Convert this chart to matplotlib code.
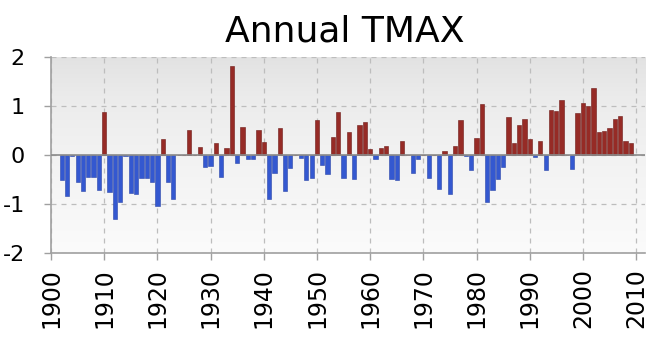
import numpy as np
import matplotlib
matplotlib.use("Agg")
import matplotlib.pyplot as plt
from matplotlib.colors import LinearSegmentedColormap

# Annual TMAX anomaly, one value per year
years = list(range(1902, 2010))
anomaly = [
    -0.52, -0.83, -0.02, -0.55, -0.73, -0.44, -0.46, -0.72, 0.88,           # 1902-1910
    -0.75, -1.31, -0.96, -0.02, -0.77, -0.80, -0.48, -0.48, -0.55, -1.04,   # 1911-1920
    0.32, -0.56, -0.89, 0.0, 0.0, 0.51, 0.0, 0.16, -0.25, -0.22,            # 1921-1930
    0.25, -0.45, 0.14, 1.81, -0.17, 0.56, -0.08, -0.08, 0.51, 0.27,         # 1931-1940
    -0.89, -0.36, 0.54, -0.73, -0.26, 0.0, -0.06, -0.51, -0.47, 0.72,       # 1941-1950
    -0.21, -0.38, 0.37, 0.87, -0.48, 0.46, -0.49, 0.61, 0.67, 0.12,         # 1951-1960
    -0.08, 0.15, 0.19, -0.50, -0.52, 0.28, 0.0, -0.36, -0.08, 0.0,          # 1961-1970
    -0.47, 0.0, -0.69, 0.09, -0.80, 0.18, 0.72, -0.03, -0.31, 0.35,         # 1971-1980
    1.04, -0.96, -0.72, -0.50, -0.25, 0.78, 0.25, 0.61, 0.73, 0.33,         # 1981-1990
    -0.04, 0.28, -0.31, 0.92, 0.89, 1.12, 0.0, -0.29, 0.85, 1.05,           # 1991-2000
    1.00, 1.37, 0.46, 0.48, 0.54, 0.73, 0.80, 0.28, 0.25,                   # 2001-2009
]
xticks = list(range(1900, 2011, 10))
yticks = [-2, -1, 0, 1, 2]

years = np.array(years)
anomaly = np.array(anomaly)

fig = plt.figure(figsize=(6.63, 3.47), dpi=100)
ax = fig.add_axes([0.077, 0.271, 0.896, 0.565])

# soft grey-to-white background gradient
grad = np.linspace(0, 1, 256).reshape(-1, 1)
cmap = LinearSegmentedColormap.from_list(
    "bg", [(0.0, "#fbfbfb"), (0.55, "#f1f1f1"), (0.8, "#ebebeb"), (1.0, "#e2e2e2")])
ax.imshow(grad, aspect="auto", cmap=cmap, origin="lower",
          extent=[1900, 2011.7, -2, 2], zorder=0)

colors = np.where(anomaly >= 0, "#962b26", "#3458d0")
edges = np.where(anomaly >= 0, "#6e1a17", "#2a45a8")
ax.bar(years, anomaly, width=0.8, color=colors, edgecolor=edges,
       linewidth=0.4, zorder=3)

ax.axhline(0, color="#8a8a8a", linewidth=1.2, zorder=4)

ax.set_xlim(1900, 2011.7)
ax.set_ylim(-2, 2)
ax.set_xticks(xticks)
ax.set_yticks(yticks)
ax.set_xticklabels([str(t) for t in xticks], rotation=90, fontsize=17)
ax.set_yticklabels([str(t) for t in yticks], fontsize=16)
ax.grid(True, linestyle=(0, (4, 4)), color="#bdbdbd", linewidth=0.9, zorder=1)

for side in ["top", "right"]:
    ax.spines[side].set_visible(False)
for side in ["left", "bottom"]:
    ax.spines[side].set_color("#a0a0a0")
    ax.spines[side].set_linewidth(1.2)
ax.tick_params(axis="both", color="#a0a0a0", length=5, width=1.0)
ax.tick_params(axis="x", pad=6)
ax.tick_params(axis="y", pad=14)

fig.text(0.52, 0.91, "Annual TMAX", ha="center", va="center", fontsize=26)

fig.savefig("out.png", dpi=100)
